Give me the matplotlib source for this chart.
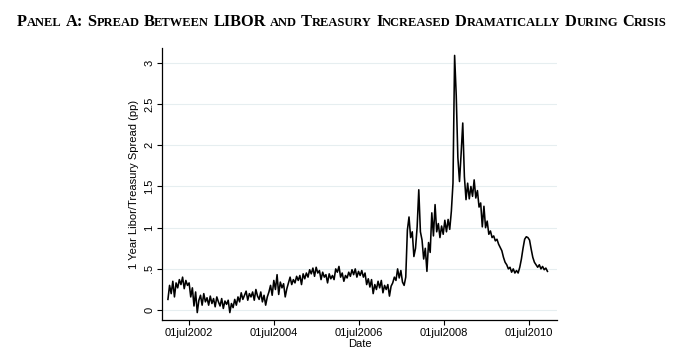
import matplotlib
matplotlib.use("Agg")
import matplotlib.pyplot as plt
import pandas as pd

# 1 year Libor minus Treasury spread, every two weeks
spread_2002 = [0.13, 0.30, 0.20, 0.35, 0.16, 0.33, 0.27, 0.37, 0.31, 0.40, 0.26, 0.36, 0.30,
               0.33, 0.16, 0.27, 0.05, 0.22, -0.03, 0.12, 0.18, 0.06, 0.20, 0.10, 0.15, 0.06]
spread_2003 = [0.17, 0.08, 0.14, 0.04, 0.16, 0.10, 0.05, 0.14, 0.02, 0.11, 0.07, 0.12, -0.03,
               0.08, 0.03, 0.13, 0.06, 0.16, 0.10, 0.21, 0.13, 0.18, 0.23, 0.12, 0.20, 0.16]
spread_2004 = [0.22, 0.12, 0.25, 0.17, 0.13, 0.22, 0.10, 0.18, 0.06, 0.16, 0.22, 0.30, 0.18,
               0.36, 0.25, 0.43, 0.19, 0.34, 0.27, 0.32, 0.16, 0.26, 0.33, 0.40, 0.31, 0.37]
spread_2005 = [0.33, 0.41, 0.36, 0.42, 0.31, 0.44, 0.38, 0.45, 0.40, 0.49, 0.44, 0.51, 0.41,
               0.52, 0.45, 0.48, 0.37, 0.46, 0.40, 0.43, 0.33, 0.44, 0.38, 0.42, 0.37, 0.50]
spread_2006 = [0.46, 0.53, 0.40, 0.45, 0.35, 0.42, 0.39, 0.46, 0.41, 0.49, 0.43, 0.50, 0.40,
               0.47, 0.42, 0.48, 0.40, 0.45, 0.31, 0.38, 0.28, 0.37, 0.20, 0.31, 0.25, 0.35]
spread_2007 = [0.27, 0.36, 0.21, 0.30, 0.25, 0.31, 0.17, 0.29, 0.33, 0.40, 0.36, 0.50, 0.39,
               0.48, 0.34, 0.30, 0.40, 0.97, 1.13, 0.88, 0.95, 0.65, 0.75, 1.01, 1.46, 0.95]
spread_2008 = [0.85, 0.62, 0.75, 0.47, 0.82, 0.70, 1.18, 0.90, 1.28, 0.95, 1.05, 0.88, 1.02,
               0.92, 1.09, 0.95, 1.10, 0.98, 1.20, 1.54, 3.09, 2.60, 1.85, 1.56, 1.90, 2.27]
spread_2009 = [1.62, 1.34, 1.54, 1.35, 1.50, 1.38, 1.58, 1.36, 1.45, 1.25, 1.30, 1.01, 1.26,
               1.00, 1.08, 0.92, 0.96, 0.88, 0.90, 0.84, 0.86, 0.80, 0.76, 0.72, 0.64, 0.58]
spread_2010 = [0.55, 0.50, 0.52, 0.46, 0.50, 0.45, 0.48, 0.45, 0.52, 0.62, 0.75, 0.86, 0.89,
               0.88, 0.85, 0.74, 0.64, 0.58, 0.55, 0.52, 0.55, 0.50, 0.53, 0.49, 0.51, 0.47]

spread = (spread_2002 + spread_2003 + spread_2004 + spread_2005 + spread_2006
          + spread_2007 + spread_2008 + spread_2009 + spread_2010)
dates = pd.date_range("2002-01-02", periods=len(spread), freq="14D")

y_ticks = [0, 0.5, 1, 1.5, 2, 2.5, 3]
y_tick_labels = ["0", ".5", "1", "1.5", "2", "2.5", "3"]
x_tick_dates = pd.to_datetime(["2002-07-01", "2004-07-01", "2006-07-01",
                               "2008-07-01", "2010-07-01"])
x_tick_labels = ["01jul2002", "01jul2004", "01jul2006", "01jul2008", "01jul2010"]

title_text = "Panel A: Spread Between LIBOR and Treasury Increased Dramatically During Crisis"

plt.rcParams["font.family"] = ["Liberation Sans", "DejaVu Sans"]


def draw_small_caps(fig, text, x_left, y_base, big, small, family):
    """Draws text in small caps, returns right edge in pixels."""
    renderer = fig.canvas.get_renderer()
    # group runs of characters that share the same size
    runs = []
    for ch in text:
        if ch == " ":
            runs.append((" ", None))
            continue
        size = small if ch.islower() else big
        if runs and runs[-1][1] == size:
            runs[-1] = (runs[-1][0] + ch.upper(), size)
        else:
            runs.append((ch.upper(), size))
    cursor = x_left
    artists = []
    for chunk, size in runs:
        if size is None:
            cursor += big * fig.dpi / 72 * 0.25
            continue
        t = fig.text(cursor / fig.bbox.width, y_base / fig.bbox.height, chunk,
                     fontsize=size, fontweight="bold", family=family,
                     ha="left", va="baseline")
        cursor += t.get_window_extent(renderer).width
        artists.append(t)
    return cursor, artists


fig = plt.figure(figsize=(6.85, 3.56), dpi=100)
ax = fig.add_axes([162 / 685, 1 - 320 / 356, (557 - 162) / 685, (320 - 48) / 356])

ax.plot(dates, spread, color="black", linewidth=1.15)

ax.set_ylim(-0.12, 3.18)
ax.set_xlim(pd.Timestamp("2001-11-12"), pd.Timestamp("2011-02-28"))
ax.set_yticks(y_ticks)
ax.set_yticklabels(y_tick_labels, rotation=90, va="center")
ax.set_xticks(x_tick_dates)
ax.set_xticklabels(x_tick_labels)
ax.tick_params(axis="both", labelsize=8, length=3.5, width=0.8, pad=2, colors="black")

ax.grid(axis="y", color="#e6eef0", linewidth=0.8)
ax.set_axisbelow(True)
for side in ["top", "right"]:
    ax.spines[side].set_visible(False)
for side in ["left", "bottom"]:
    ax.spines[side].set_linewidth(0.9)

ax.set_ylabel("1 Year Libor/Treasury Spread (pp)", fontsize=8, labelpad=4)
ax.set_xlabel("Date", fontsize=8, labelpad=1)

# small caps title, sized to span the same width as the original
serif = ["Liberation Serif", "DejaVu Serif"]
width_target = 651
right, parts = draw_small_caps(fig, title_text, 0, 330, 10.5, 8.0, serif)
for p in parts:
    p.remove()
scale = width_target / right
left = (685 - width_target) / 2
draw_small_caps(fig, title_text, left, 356 - 26, 10.5 * scale, 8.0 * scale, serif)

fig.savefig("out.png", dpi=100, facecolor="white")
